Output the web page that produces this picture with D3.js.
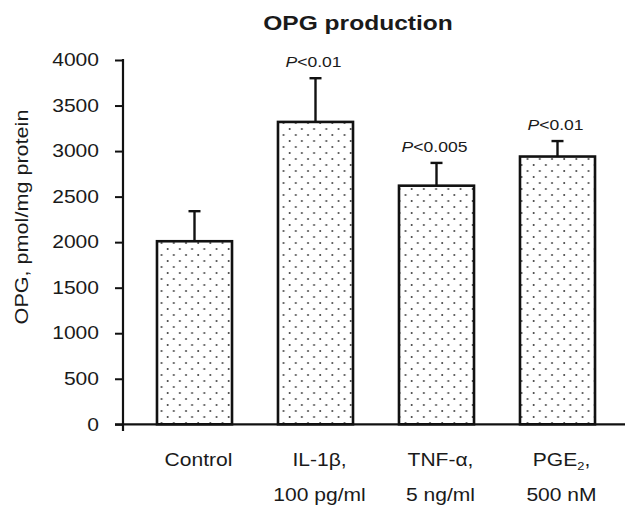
<!DOCTYPE html>
<html>
<head>
<meta charset="utf-8">
<script src="https://cdn.jsdelivr.net/npm/d3@7"></script>
<style>
  html, body { margin: 0; padding: 0; background: #fff; }
  svg { display: block; }
  text { font-family: "Liberation Sans", Arial, Helvetica, sans-serif; fill: #1a1a1a; }
</style>
</head>
<body>
<svg id="chart" width="635" height="514"></svg>
<script>
// ---- data ----
const categories = ["Control", "IL-1β", "TNF-α", "PGE2"];
const labelLine1 = ["Control", "IL-1β,", "TNF-α,", "PGE"];
const labelLine2 = ["", "100 pg/ml", "5 ng/ml", "500 nM"];
const means = [2010, 3320, 2620, 2940];
const errors = [330, 480, 250, 170];
const pValues = ["", "0.01", "0.005", "0.01"];
const yTicks = [0, 500, 1000, 1500, 2000, 2500, 3000, 3500, 4000];
const titleText = "OPG production";
const yLabel = "OPG, pmol/mg protein";

const SX = 1.17; // horizontal stretch of the reference typeface

const svg = d3.select("#chart");

// dotted fill pattern
const defs = svg.append("defs");
const pat = defs.append("pattern")
  .attr("id", "dots").attr("patternUnits", "userSpaceOnUse")
  .attr("width", 12.2).attr("height", 12);
pat.append("rect").attr("width", 12.2).attr("height", 12).attr("fill", "#fff");
pat.append("circle").attr("cx", 3).attr("cy", 3).attr("r", 1).attr("fill", "#444");
pat.append("circle").attr("cx", 9.1).attr("cy", 9).attr("r", 1).attr("fill", "#444");

const y = d3.scaleLinear().domain([0, 4000]).range([424.3, 60]);
const x = d3.scaleBand().domain(categories).range([134, 618])
  .paddingInner(0.38).paddingOuter(0.19);

// bars
svg.append("g").selectAll("rect").data(categories).join("rect")
  .attr("x", d => x(d))
  .attr("y", (d, i) => y(means[i]))
  .attr("width", x.bandwidth())
  .attr("height", (d, i) => y(0) - y(means[i]))
  .attr("fill", "url(#dots)")
  .attr("stroke", "#111")
  .attr("stroke-width", 2.6);

// error bars
const eg = svg.append("g").attr("stroke", "#111").attr("stroke-width", 2.4);
categories.forEach((c, i) => {
  const cx = x(c) + x.bandwidth() / 2;
  eg.append("line").attr("x1", cx).attr("x2", cx)
    .attr("y1", y(means[i])).attr("y2", y(means[i] + errors[i]));
  eg.append("line").attr("x1", cx - 6).attr("x2", cx + 6)
    .attr("y1", y(means[i] + errors[i])).attr("y2", y(means[i] + errors[i]));
});

// y axis
const yAxis = d3.axisLeft(y).tickValues(yTicks).tickFormat(d3.format("d"))
  .tickSize(8).tickSizeOuter(0).tickPadding(0);
const ga = svg.append("g").attr("transform", "translate(123,0)").call(yAxis);
ga.select(".domain").remove();
ga.selectAll(".tick line").attr("stroke", "#111").attr("stroke-width", 2);
ga.selectAll(".tick text")
  .attr("x", -24 / SX)
  .attr("transform", `scale(${SX},1)`)
  .style("font-size", "18px")
  .style("font-family", '"Liberation Sans", Arial, sans-serif')
  .attr("fill", "#1a1a1a");

// axis lines
svg.append("line").attr("x1", 123).attr("x2", 123).attr("y1", 59).attr("y2", 431)
  .attr("stroke", "#111").attr("stroke-width", 2.2);
svg.append("line").attr("x1", 115).attr("x2", 625).attr("y1", y(0)).attr("y2", y(0))
  .attr("stroke", "#111").attr("stroke-width", 2.2);

// title
svg.append("text")
  .attr("transform", `translate(358,30) scale(${SX},1)`)
  .attr("text-anchor", "middle")
  .style("font-size", "21px").style("font-weight", "bold")
  .text(titleText);

// y label
svg.append("text")
  .attr("transform", `translate(28,217) rotate(-90) scale(1.2,1)`)
  .attr("text-anchor", "middle")
  .style("font-size", "18px")
  .text(yLabel);

// P labels
categories.forEach((c, i) => {
  if (!pValues[i]) return;
  const cx = x(c) + x.bandwidth() / 2 - 2;
  const t = svg.append("text")
    .attr("transform", `translate(${cx},${y(means[i] + errors[i]) - 11}) scale(${SX},1)`)
    .attr("text-anchor", "middle")
    .style("font-size", "15px").attr("fill", "#333");
  t.append("tspan").style("font-style", "italic").text("P");
  t.append("tspan").text("<" + pValues[i]);
});

// x labels
categories.forEach((c, i) => {
  const cx = x(c) + x.bandwidth() / 2 + 4;
  const t1 = svg.append("text")
    .attr("transform", `translate(${cx},466) scale(${SX},1)`)
    .attr("text-anchor", "middle").style("font-size", "18px");
  t1.append("tspan").text(labelLine1[i]);
  if (c === "PGE2") {
    t1.append("tspan").attr("dy", 4).style("font-size", "11px").text("2");
    t1.append("tspan").attr("dy", -4).text(",");
  }
  if (labelLine2[i]) {
    svg.append("text")
      .attr("transform", `translate(${cx},501) scale(${SX},1)`)
      .attr("text-anchor", "middle").style("font-size", "18px")
      .text(labelLine2[i]);
  }
});
</script>
</body>
</html>
